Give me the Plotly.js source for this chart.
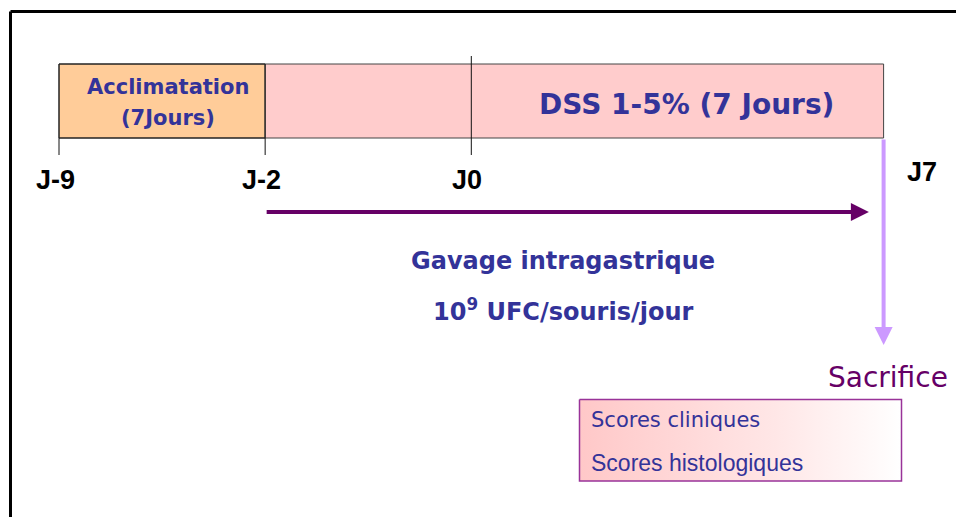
<!DOCTYPE html>
<html>
<head>
<meta charset="utf-8">
<script src="https://cdn.plot.ly/plotly-3.0.1.min.js"></script>
<style>html,body{margin:0;padding:0;background:#fff;}#chart{width:956px;height:517px;}</style>
</head>
<body>
<div id="chart"></div>
<script>
// Timeline milestones (schematic positions, one unit per drawn day-step)
const timeLabels = ['J-9', 'J-2', 'J0', 'J7'];
const timePos = [0, 7, 14, 28];

// Phases drawn as bars
const phaseStart = [0, 7];
const phaseEnd = [7, 28];
const phaseFill = ['#FFCC99', '#FFCCCC'];
const acclimLines = ['Acclimatation', '(7Jours)'];
const dssLabel = 'DSS 1-5% (7 Jours)';

// Gavage period
const gavageStart = 7;
const gavageEnd = 27.5;
const gavageText = ['Gavage intragastrique', '10<sup>9</sup> UFC/souris/jour'];

// Endpoint
const endpointLabel = 'Sacrifice';
const outcomes = ['Scores cliniques', 'Scores histologiques'];

// ---------- layout helpers ----------
const PXU = 29.45, X0 = 59; // pixel mapping used only for axis range
const xr = [-X0 / PXU, (956 - X0) / PXU];
const BAR_TOP = 64, BAR_BOT = 138;
const comic = '"Comic Sans MS", "DejaVu Sans", sans-serif';
const arial = 'Arial, "Liberation Sans", sans-serif';
const navy = '#333399';

const shapes = [];
const annotations = [];

// Frame (top and left borders)
shapes.push({type: 'line', xref: 'paper', yref: 'paper', x0: 10.5/956, x1: 1, y0: 1 - 11.5/517, y1: 1 - 11.5/517, line: {color: '#000', width: 3}});
shapes.push({type: 'line', xref: 'paper', yref: 'paper', x0: 10.5/956, x1: 10.5/956, y0: 1 - 11.5/517, y1: 0, line: {color: '#000', width: 3}});

// Phase bars
phaseStart.forEach((s, i) => {
  shapes.push({type: 'rect', xref: 'x', yref: 'y', x0: s, x1: phaseEnd[i], y0: BAR_TOP, y1: BAR_BOT,
    fillcolor: phaseFill[i], line: {color: i === 0 ? '#222' : '#444', width: 1}, layer: 'below'});
});
shapes.push({type: 'rect', xref: 'x', yref: 'y', x0: phaseStart[0], x1: phaseEnd[0], y0: BAR_TOP, y1: BAR_BOT,
  fillcolor: 'rgba(0,0,0,0)', line: {color: '#222', width: 1}});

// Tick marks at milestones
timePos.forEach((p, i) => {
  if (i === 3) return;
  shapes.push({type: 'line', xref: 'x', yref: 'y', x0: p, x1: p, y0: i === 2 ? 56 : BAR_BOT, y1: 155,
    line: {color: '#111', width: 1}});
});

// Milestone labels
timeLabels.forEach((t, i) => {
  const last = i === timeLabels.length - 1;
  annotations.push({x: timePos[i], y: last ? 172 : 180, xref: 'x', yref: 'y', text: t, showarrow: false,
    xanchor: last ? 'left' : 'center', yanchor: 'middle', xshift: last ? 21 : -4,
    font: {family: arial, size: 27, color: '#000', weight: 'bold'}});
});

// Phase labels
acclimLines.forEach((t, i) => {
  annotations.push({x: (phaseStart[0] + phaseEnd[0]) / 2, y: i === 0 ? 87 : 118, xref: 'x', yref: 'y', text: t,
    showarrow: false, xanchor: 'center', yanchor: 'middle', xshift: 6,
    font: {family: comic, size: 21, color: navy, weight: 'bold'}});
});
annotations.push({x: (timePos[2] + timePos[3]) / 2, y: 104, xref: 'x', yref: 'y', text: dssLabel, showarrow: false,
  xanchor: 'center', yanchor: 'middle', xshift: 9,
  font: {family: comic, size: 28, color: navy, weight: 'bold'}});

// Gavage arrow + text
annotations.push({x: gavageEnd, y: 212, ax: gavageStart, ay: 212, xref: 'x', yref: 'y', axref: 'x', ayref: 'y',
  text: '', showarrow: true, arrowhead: 2, arrowsize: 0.9, arrowwidth: 4, arrowcolor: '#660066', standoff: 0});
gavageText.forEach((t, i) => {
  annotations.push({x: (gavageStart + timePos[3]) / 2 - 0.4, y: i === 0 ? 261 : 310, xref: 'x', yref: 'y', text: t,
    showarrow: false, xanchor: 'center', yanchor: 'middle',
    font: {family: comic, size: 24, color: navy, weight: 'bold'}});
});

// Sacrifice arrow + label
annotations.push({x: timePos[3], y: 345, ax: timePos[3], ay: BAR_BOT, xref: 'x', yref: 'y', axref: 'x', ayref: 'y',
  text: '', showarrow: true, arrowhead: 2, arrowsize: 0.9, arrowwidth: 4, arrowcolor: '#CC99FF', standoff: 0});
annotations.push({x: timePos[3], y: 377, xref: 'x', yref: 'y', text: endpointLabel, showarrow: false,
  xanchor: 'center', yanchor: 'middle', xshift: 4, font: {family: comic, size: 28, color: '#660066'}});

// Outcome box
const bx0 = (579.5 - X0) / PXU, bx1 = (901.5 - X0) / PXU, by0 = 399.5, by1 = 481;
outcomes.forEach((t, i) => {
  annotations.push({x: bx0, y: i === 0 ? 420 : 462.5, xref: 'x', yref: 'y', text: t, showarrow: false,
    xanchor: 'left', yanchor: 'middle', xshift: 9,
    font: {family: i === 0 ? comic : arial, size: i === 0 ? 21 : 23, color: navy}});
});

const traces = [{
  type: 'scatter', mode: 'lines', x: [bx0, bx1, bx1, bx0, bx0], y: [by0, by0, by1, by1, by0],
  fill: 'toself', line: {color: '#993399', width: 1.5}, hoverinfo: 'skip',
  fillgradient: {type: 'horizontal', colorscale: [[0, '#FFC8C8'], [0.6, '#FFE6E6'], [1, '#FFFFFF']]}
}];

const layout = {
  width: 956, height: 517, margin: {l: 0, r: 0, t: 0, b: 0},
  paper_bgcolor: '#fff', plot_bgcolor: '#fff', showlegend: false,
  xaxis: {range: xr, visible: false, fixedrange: true},
  yaxis: {range: [517, 0], visible: false, fixedrange: true},
  shapes: shapes, annotations: annotations
};
Plotly.newPlot('chart', traces, layout, {displayModeBar: false, staticPlot: true});
</script>
</body>
</html>
